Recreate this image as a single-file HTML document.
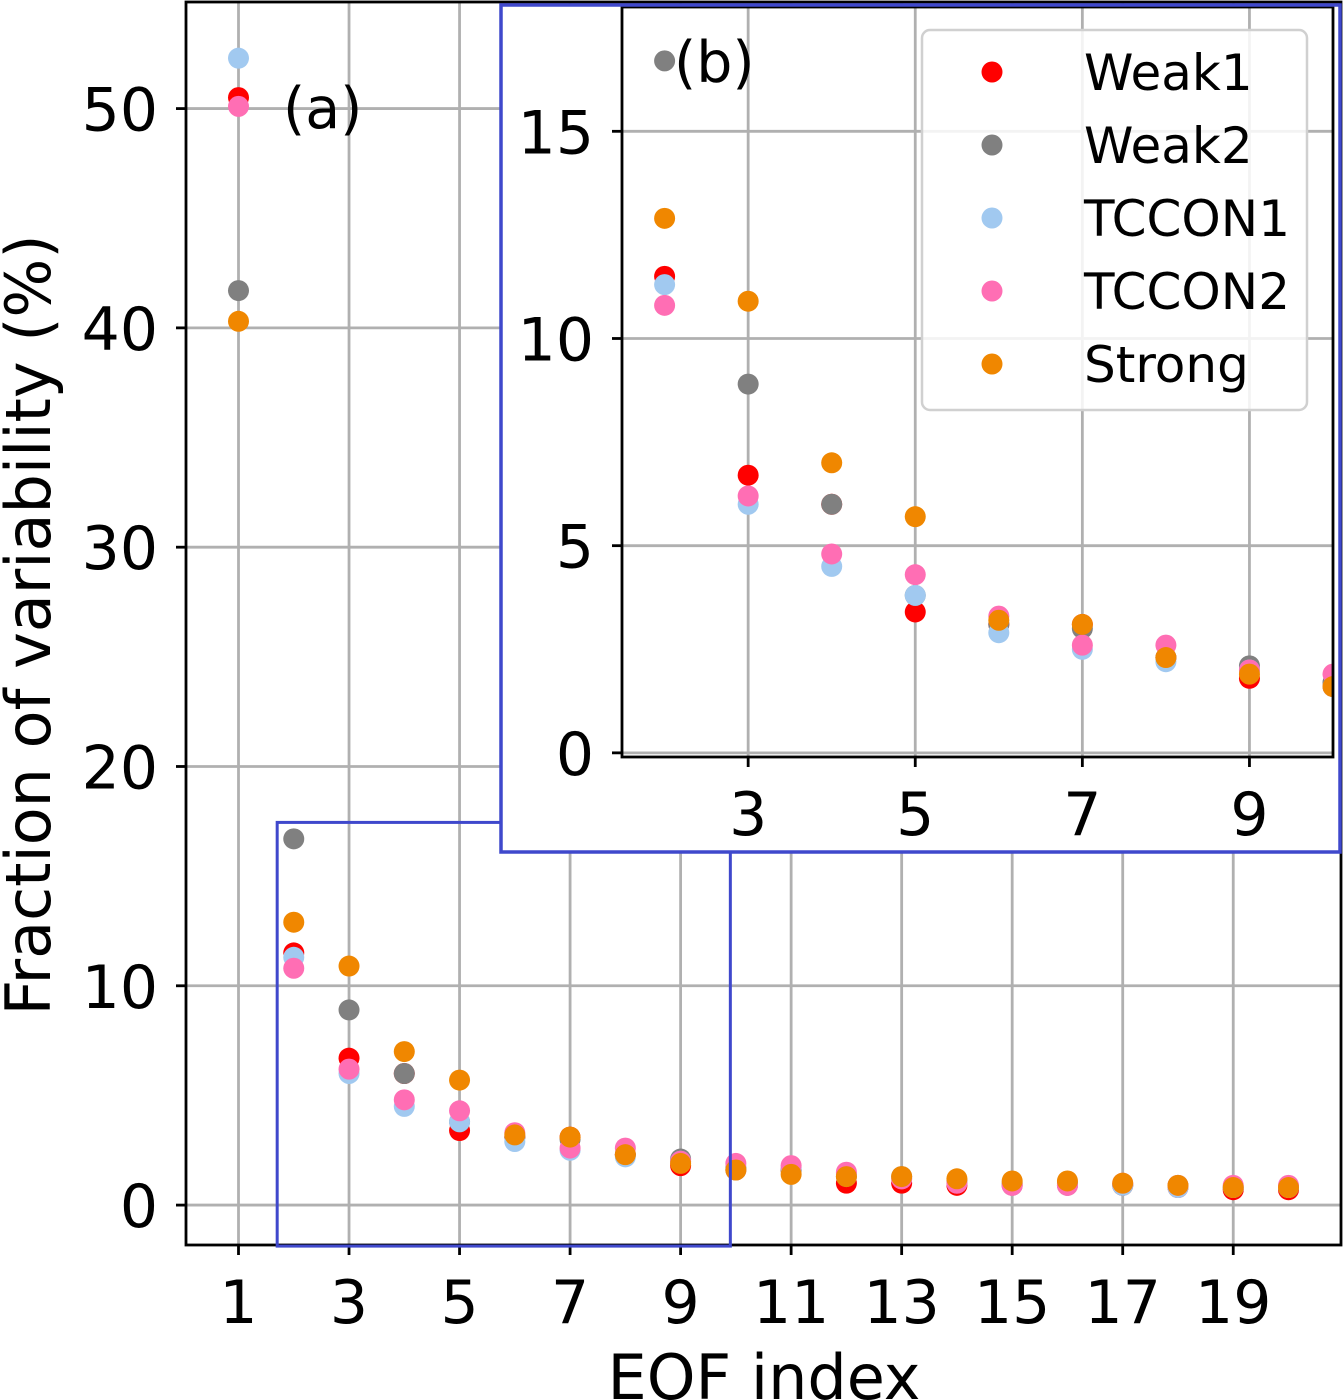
<!DOCTYPE html>
<html><head><meta charset="utf-8"><style>
html,body{margin:0;padding:0;background:#fff;}
svg{display:block;font-family:"DejaVu Sans","Liberation Sans",sans-serif;}
</style></head><body>
<svg id="chart" width="1344" height="1400" viewBox="0 0 1344 1400" xmlns="http://www.w3.org/2000/svg"></svg>
<script>
const eofIndex=[1,2,3,4,5,6,7,8,9,10,11,12,13,14,15,16,17,18,19,20];
const weak1=[50.5,11.5,6.7,6.0,3.4,3.1,3.1,2.3,1.8,1.6,1.6,1.0,1.0,0.9,0.9,0.9,0.9,0.8,0.7,0.7];
const weak2=[41.7,16.7,8.9,6.0,3.8,3.1,3.0,2.3,2.1,1.7,1.6,1.3,1.3,1.1,1.0,1.0,0.9,0.9,0.8,0.8];
const tccon1=[52.3,11.3,6.0,4.5,3.8,2.9,2.5,2.2,2.0,1.6,1.7,1.4,1.2,1.0,0.9,0.9,0.9,0.8,0.8,0.8];
const tccon2=[50.1,10.8,6.2,4.8,4.3,3.3,2.6,2.6,2.0,1.9,1.8,1.5,1.2,1.0,0.9,0.9,1.0,0.9,0.9,0.9];
const strong=[40.3,12.9,10.9,7.0,5.7,3.2,3.1,2.3,1.9,1.6,1.4,1.3,1.3,1.2,1.1,1.1,1.0,0.9,0.8,0.8];
const seriesNames=["Weak1","Weak2","TCCON1","TCCON2","Strong"];
const seriesColors=["#ff0000","#808080","#a1c9f0","#ff6eb4","#f08700"];
const mainXTicks=[1,3,5,7,9,11,13,15,17,19];
const mainYTicks=[0,10,20,30,40,50];
const insetXTicks=[3,5,7,9];
const insetYTicks=[0,5,10,15];
const allSeries=[weak1,weak2,tccon1,tccon2,strong];

const svg=document.getElementById('chart');
const NS='http://www.w3.org/2000/svg';
function mk(tag,attrs,parent){const e=document.createElementNS(NS,tag);for(const k in attrs)e.setAttribute(k,attrs[k]);(parent||svg).appendChild(e);return e;}

function drawAxes(cfg){
  const {x0,x1,y0,y1,xmin,xmax,ymin,ymax,xt,yt,pre}=cfg;
  const sx=v=>x0+(v-xmin)/(xmax-xmin)*(x1-x0);
  const sy=v=>y1-(v-ymin)/(ymax-ymin)*(y1-y0);
  const g=mk('g',{});
  
  
  mk('rect',{x:x0,y:y0,width:x1-x0,height:y1-y0,fill:'#fff'},g);
  xt.forEach(t=>{
    const l=mk('line',{x1:sx(t),x2:sx(t),y1:y0,y2:y1,stroke:'#b0b0b0','stroke-width':2.8},g);
    
    mk('line',{x1:sx(t),x2:sx(t),y1:y1,y2:y1+10,stroke:'#000','stroke-width':2.8},g);
    const tx=mk('text',{x:sx(t),y:y1+78,'font-size':60,'text-anchor':'middle',fill:'#000'},g);
    tx.textContent=t;
    
  });
  yt.forEach(t=>{
    const l=mk('line',{x1:x0,x2:x1,y1:sy(t),y2:sy(t),stroke:'#b0b0b0','stroke-width':2.8},g);
    
    mk('line',{x1:x0-10,x2:x0,y1:sy(t),y2:sy(t),stroke:'#000','stroke-width':2.8},g);
    const tx=mk('text',{x:x0-28,y:sy(t)+22,'font-size':60,'text-anchor':'end',fill:'#000'},g);
    tx.textContent=t;
    
  });
  const clip=mk('clipPath',{id:pre+'-clip'},g);
  mk('rect',{x:x0,y:y0,width:x1-x0,height:y1-y0},clip);
  const pts=mk('g',{'clip-path':'url(#'+pre+'-clip)'},g);
  allSeries.forEach((s,si)=>{
    s.forEach((v,i)=>{
      const c=mk('circle',{cx:sx(eofIndex[i]),cy:sy(v),r:10.5,fill:seriesColors[si]},pts);
      
      
    });
  });
  mk('rect',{x:x0,y:y0,width:x1-x0,height:y1-y0,fill:'none',stroke:'#000','stroke-width':2.8},g);
  return {sx,sy};
}

const main=drawAxes({x0:186,x1:1341,y0:2,y1:1245,xmin:0.05,xmax:20.95,ymin:-1.82,ymax:54.86,xt:mainXTicks,yt:mainYTicks,pre:'main'});
const zr=mk('rect',{x:main.sx(1.7),y:main.sy(17.45),width:main.sx(9.9)-main.sx(1.7),height:main.sy(-1.87)-main.sy(17.45),fill:'none',stroke:'#3f48cc','stroke-width':3});

const la=mk('text',{x:283,y:128,'font-size':57,fill:'#000'});la.textContent='(a)';

const yl=mk('text',{x:0,y:0,'font-size':62,'text-anchor':'middle',fill:'#000',transform:'translate(50,625) rotate(-90)'});
yl.textContent='Fraction of variability (%)';

const xl=mk('text',{x:764,y:1399,'font-size':62,'text-anchor':'middle',fill:'#000'});
xl.textContent='EOF index';


const bg=mk('rect',{x:501,y:5,width:839,height:847,fill:'#fff'});

const ins=drawAxes({x0:622,x1:1333,y0:7,y1:757,xmin:1.49,xmax:10.0,ymin:-0.1,ymax:18,xt:insetXTicks,yt:insetYTicks,pre:'inset'});
const ib=mk('rect',{x:501,y:5,width:839,height:847,fill:'none',stroke:'#3f48cc','stroke-width':3.5});

const lb=mk('text',{x:674,y:82,'font-size':57,fill:'#000'});lb.textContent='(b)';


const lg=mk('g',{});

mk('rect',{x:922,y:30,width:385,height:380,rx:8,fill:'#fff','fill-opacity':0.85,stroke:'#d0d0d0','stroke-width':2.5},lg);
seriesNames.forEach((n,i)=>{
  const y=72+i*73;
  const e=mk('g',{},lg);
  
  
  mk('circle',{cx:992,cy:y,r:10.5,fill:seriesColors[i]},e);
  const t=mk('text',{x:1084,y:y+18,'font-size':50,fill:'#000'},e);t.textContent=n;
});
</script>
</body></html>
